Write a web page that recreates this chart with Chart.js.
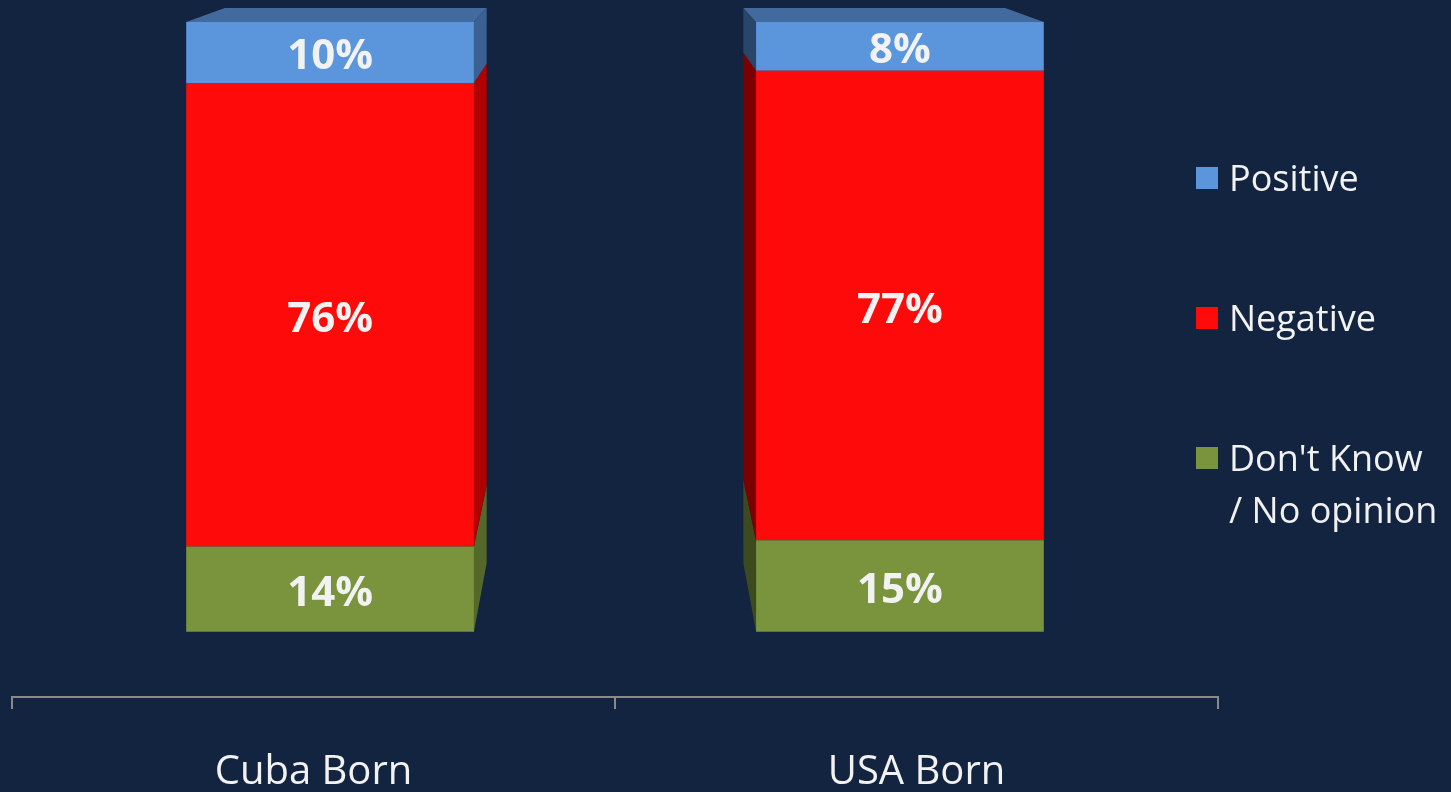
<!DOCTYPE html>
<html lang="en">
<head>
<meta charset="UTF-8">
<title>Cuba Born vs USA Born</title>
<script src="https://cdn.jsdelivr.net/npm/chart.js"></script>
<style>
    html, body {
        margin: 0;
        padding: 0;
        background: #12243f;
        overflow: hidden;
    }
    .wrap {
        position: relative;
        width: 1451px;
        height: 837px;
    }
    .legend {
        position: absolute;
        left: 1196px;
        top: 0;
        font-family: 'Open Sans', sans-serif;
        font-size: 36px;
        color: #f2f2f2;
    }
    .legend .item {
        position: absolute;
        left: 0;
        white-space: nowrap;
        line-height: 52px;
    }
    .legend .sq {
        position: absolute;
        left: 0;
        width: 22px;
        height: 22px;
        top: 15px;
    }
    .legend .txt {
        position: absolute;
        left: 33px;
        top: 0;
    }
</style>
</head>
<body>
<div class="wrap">
    <canvas id="grafico"></canvas>
    <div class="legend" id="legenda"></div>
</div>

<script>
    // dados
    const categorias = ['Cuba Born', 'USA Born'];
    const naoSabe = [14, 15];
    const negativo = [76, 77];
    const positivo = [10, 8];

    const nomes = ['Don\'t Know / No opinion', 'Negative', 'Positive'];
    const legendaLinhas = [['Positive'], ['Negative'], ['Don\'t Know', '/ No opinion']];
    const legendaTopos = [152, 292, 432];

    const cores = ['#7a943e', '#ff0a0a', '#5b96dc'];
    const coresLadoDir = ['#55682a', '#b00000', '#3b6193'];
    const coresLadoEsq = ['#3c4a1e', '#7c0000', '#29456a'];
    const corTopo = '#436a9e';

    const persp = 0.945; // leve perspectiva: barras puxadas para o centro
    const prof = 0.09;   // profundidade da caixa
    const fugaY = -133;  // ponto de fuga vertical

    // legenda em html
    const legenda = document.getElementById('legenda');
    const ordemLegenda = [2, 1, 0];
    ordemLegenda.forEach((ds, k) => {
        const item = document.createElement('div');
        item.className = 'item';
        item.style.top = legendaTopos[k] + 'px';
        item.innerHTML = '<span class="sq" style="background:' + cores[ds] + '"></span>' +
            '<span class="txt">' + legendaLinhas[k].join('<br>') + '</span>';
        legenda.appendChild(item);
    });

    const caixa3d = {
        id: 'caixa3d',
        beforeDatasetsDraw(chart) {
            const { ctx, chartArea } = chart;
            const c = (chartArea.left + chartArea.right) / 2;
            ctx.save();
            ctx.translate(c, 0);
            ctx.scale(persp, 1);
            ctx.translate(-c, 0);
        },
        afterDatasetsDraw(chart) {
            const { ctx, chartArea } = chart;
            ctx.restore();
            const c = (chartArea.left + chartArea.right) / 2;
            const tx = x => c + (x - c) * persp;
            const fundo = (x, y) => [x + (c - x) * prof, y + (fugaY - y) * prof];
            const n = chart.data.datasets.length;

            chart.data.labels.forEach((lab, i) => {
                for (let d = 0; d < n; d++) {
                    const el = chart.getDatasetMeta(d).data[i];
                    const p = el.getProps(['x', 'y', 'base', 'width'], true);
                    const esq = tx(p.x - p.width / 2);
                    const dir = tx(p.x + p.width / 2);
                    const y1 = Math.min(p.y, p.base);
                    const y2 = Math.max(p.y, p.base);
                    const ladoDir = tx(p.x) < c;
                    const xs = ladoDir ? dir : esq;

                    // face lateral
                    const a = fundo(xs, y1), b = fundo(xs, y2);
                    ctx.beginPath();
                    ctx.moveTo(xs, y1);
                    ctx.lineTo(a[0], a[1]);
                    ctx.lineTo(b[0], b[1]);
                    ctx.lineTo(xs, y2);
                    ctx.closePath();
                    ctx.fillStyle = ladoDir ? coresLadoDir[d] : coresLadoEsq[d];
                    ctx.fill();

                    // face de cima
                    if (d === n - 1) {
                        const e = fundo(esq, y1), f = fundo(dir, y1);
                        ctx.beginPath();
                        ctx.moveTo(esq, y1);
                        ctx.lineTo(e[0], e[1]);
                        ctx.lineTo(f[0], f[1]);
                        ctx.lineTo(dir, y1);
                        ctx.closePath();
                        ctx.fillStyle = corTopo;
                        ctx.fill();
                    }

                    // rotulo
                    const v = chart.data.datasets[d].data[i];
                    ctx.fillStyle = '#f2f2f2';
                    ctx.font = 'bold 42px "Open Sans"';
                    ctx.textAlign = 'center';
                    ctx.textBaseline = 'middle';
                    ctx.fillText(v + '%', tx(p.x), (y1 + y2) / 2 + 5);
                }
            });
        }
    };

    const grafico = document.getElementById('grafico');

    new Chart(grafico, {
        type: 'bar',
        data: {
            labels: categorias,
            datasets: [
                { label: nomes[0], data: naoSabe, backgroundColor: cores[0] },
                { label: nomes[1], data: negativo, backgroundColor: cores[1] },
                { label: nomes[2], data: positivo, backgroundColor: cores[2] }
            ]
        },
        options: {
            responsive: true,
            maintainAspectRatio: false,
            animation: false,
            layout: { padding: { top: 22, left: 12, right: 233, bottom: 0 } },
            datasets: {
                bar: { barPercentage: 0.505, categoryPercentage: 1, borderWidth: 0 }
            },
            plugins: {
                legend: { display: false },
                tooltip: { enabled: false }
            },
            scales: {
                x: {
                    stacked: true,
                    grid: {
                        display: true,
                        drawOnChartArea: false,
                        offset: true,
                        tickLength: 12,
                        color: '#8a8a8a',
                        lineWidth: 2
                    },
                    border: { display: true, color: '#8a8a8a', width: 2 },
                    ticks: {
                        color: '#f2f2f2',
                        padding: 40,
                        font: { family: 'Open Sans', size: 40 }
                    }
                },
                y: {
                    stacked: true,
                    display: false,
                    min: -10.7,
                    max: 100
                }
            }
        },
        plugins: [caixa3d]
    });
</script>
</body>
</html>
